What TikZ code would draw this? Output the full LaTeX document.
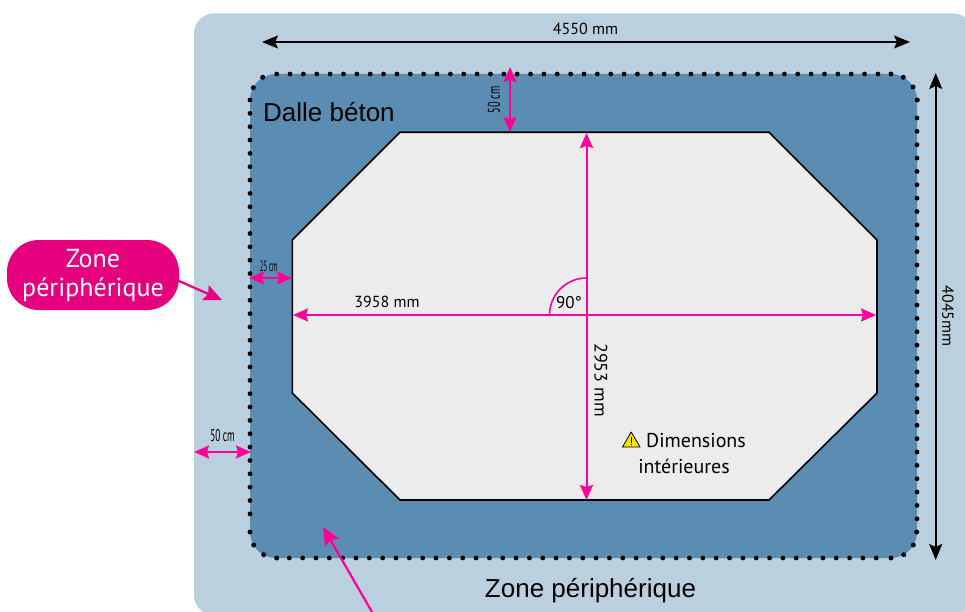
\documentclass[tikz,border=0pt]{standalone}
\usepackage{fontspec}
\usepackage{graphicx}
\setmainfont{PT Sans}
\newfontfamily\bigfont{Liberation Sans}
\usetikzlibrary{arrows.meta}
\definecolor{zonelight}{HTML}{BBD0DF}
\definecolor{dalleblue}{HTML}{5B8DB3}
\definecolor{floorgrey}{HTML}{ECECEC}
\definecolor{pinkline}{HTML}{FF0099}
\definecolor{bubblepink}{HTML}{E6007E}
\definecolor{warnyellow}{HTML}{FFE600}
\tikzset{
  dotmark/.style={fill=black},
  blackdim/.style={draw=black,line width=1.6pt,{Stealth[length=16pt,width=13pt,inset=3pt]}-{Stealth[length=16pt,width=13pt,inset=3pt]}},
  pinkdim/.style={draw=pinkline,line width=2pt,{Stealth[length=15pt,width=13pt,inset=2pt]}-{Stealth[length=15pt,width=13pt,inset=2pt]}},
  pinkcall/.style={draw=pinkline,line width=2.2pt,-{Stealth[length=18pt,width=16pt,inset=3pt]}},
  lab/.style={inner sep=0pt,font=\fontsize{16}{16}\selectfont,text=black},
  biglab/.style={inner sep=0pt,font=\bigfont\fontsize{26}{26}\selectfont,text=black},
  bubble/.style={fill=bubblepink,rounded corners=32pt,minimum width=172pt,minimum height=70pt,inner sep=0pt}
}
\begin{document}
\begin{tikzpicture}[x=1pt,y=-1pt]
\useasboundingbox (0,0) rectangle (965,612);
\clip (0,0) rectangle (965,612);
% zones
\fill[zonelight,rounded corners=20pt] (194,13.5) rectangle (973,615);
\fill[dalleblue,rounded corners=26pt] (250,74) rectangle (917,558);
% dotted border
\foreach \i in {0,...,45} \fill[dotmark] ({276.7+\i*13.36},74) circle (2.4pt);
\foreach \i in {0,...,44} \fill[dotmark] ({289.3+\i*13.34},558) circle (2.4pt);
\foreach \i in {0,...,31} \fill[dotmark] (250,{100+\i*13.35}) circle (2.4pt);
\foreach \i in {0,...,30} \fill[dotmark] (917,{118+\i*13.36}) circle (2.4pt);
\foreach \p in {(253.3,87.7),(262.7,77.3),(891,74),(903.3,77.3),(913,87),(917.3,100),(250,532),(253.7,545),(263.7,554.7),(276.7,558),(916.7,532),(913.3,545),(903.7,554.7),(891,558)}
  \fill[dotmark] \p circle (2.5pt);
% inner octagon
\draw[fill=floorgrey,draw=black,line width=1.6pt,line join=miter]
  (400,132.3) -- (769,132.3) -- (877,240) -- (877,393) -- (769,500) -- (400,500) -- (292.3,393) -- (292.3,240) -- cycle;
% angle arc
\coordinate (arcA) at (549.5,315);
\coordinate (arcB) at (586.5,278);
\draw[pinkline,line width=1.6pt] (arcA) .. controls (549.5,294.6) and (566.1,278) .. (arcB);
% black dimensions
\coordinate (wL) at (262,42);
\coordinate (wR) at (910,42);
\coordinate (hT) at (935.7,73);
\coordinate (hB) at (935.7,560);
\draw[blackdim] (wL) -- (wR);
\draw[blackdim] (hT) -- (hB);
\node[lab] (t4550) at (585.5,29) {4550 mm};
\node[lab,rotate=-90] (t4045) at (948,316) {4045mm};
% pink dimensions
\coordinate (aT) at (510,67);
\coordinate (aB) at (510,132);
\coordinate (bL) at (249,278);
\coordinate (bR) at (292,278);
\coordinate (cL) at (194,452);
\coordinate (cR) at (251,452);
\coordinate (dL) at (293,315);
\coordinate (dR) at (876,315);
\coordinate (eT) at (586.5,133);
\coordinate (eB) at (586.5,500);
\draw[pinkdim] (aT) -- (aB);
\draw[pinkdim] (bL) -- (bR);
\draw[pinkdim] (cL) -- (cR);
\draw[pinkdim] (dL) -- (dR);
\draw[pinkdim] (eT) -- (eB);
\node[inner sep=0pt,rotate=90] (t50a) at (494,100) {\scalebox{0.6}[1]{\fontsize{17}{17}\selectfont 50 cm}};
\node[inner sep=0pt] (t25) at (268.7,266) {\scalebox{0.45}[1]{\fontsize{15}{15}\selectfont 25 cm}};
\node[inner sep=0pt] (t50b) at (222.5,436) {\scalebox{0.55}[1]{\fontsize{17}{17}\selectfont 50 cm}};
\node[lab] (t3958) at (387,302) {3958 mm};
\node[lab,rotate=-90,font=\fontsize{18}{18}\selectfont] (t2953) at (601,380) {2953 mm};
\node[lab,font=\fontsize{17}{17}\selectfont] (t90) at (569,303) {90°};
% warning
\draw[fill=warnyellow,draw=black,line width=0.8pt,line join=round] (622.5,447) -- (640,447) -- (631.2,432) -- cycle;
\draw[black,line width=1pt] (631.2,436.5) -- (631.2,442.5);
\fill[black] (631.2,444.8) circle (0.7pt);
\node[lab,font=\fontsize{20}{20}\selectfont,anchor=west] (tdim) at (646,441) {Dimensions};
\node[lab,font=\fontsize{20}{20}\selectfont] (tint) at (684,466.5) {intérieures};
% big labels
\node[biglab,anchor=west] (tdalle) at (263,112) {Dalle béton};
\node[biglab] (tzone) at (590.5,590.5) {Zone périphérique};
% bubble
\node[bubble] (bub) at (93,275) {};
\node[inner sep=0pt,text=white,font=\fontsize{26}{26}\selectfont] (bz) at (93,259) {Zone};
\node[inner sep=0pt,text=white,font=\fontsize{26}{26}\selectfont] (bp) at (93,290) {périphérique};
% call-out arrows
\coordinate (c1a) at (179,281);
\coordinate (c1b) at (222,300);
\coordinate (c2a) at (372,612);
\coordinate (c2b) at (323,527);
\draw[pinkcall,draw=bubblepink] (c1a) -- (c1b);
\draw[pinkcall] (c2a) -- (c2b);
\end{tikzpicture}
\end{document}
